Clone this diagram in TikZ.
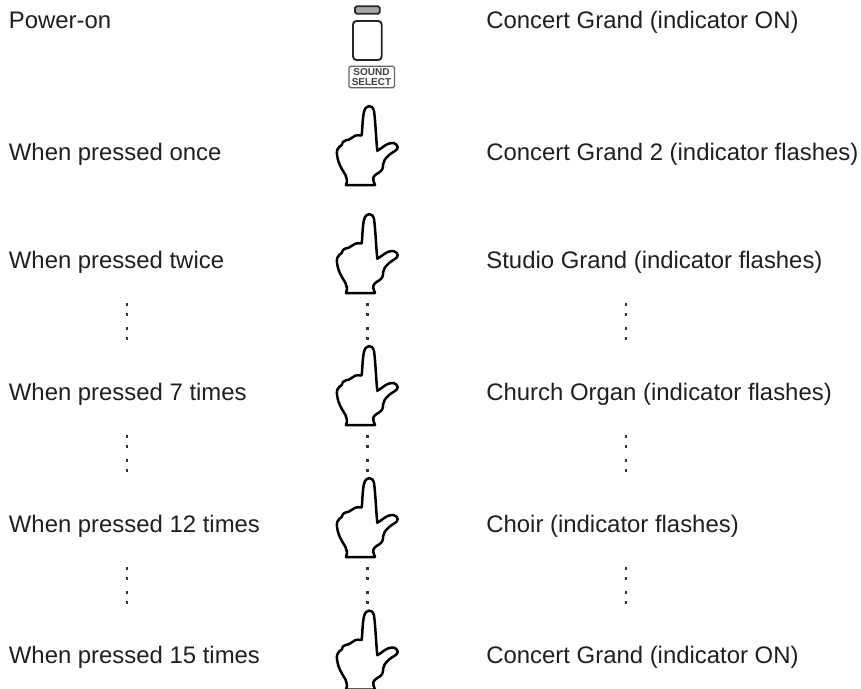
\documentclass[tikz,border=0pt]{standalone}
\usepackage{fontspec}
\setmainfont{Liberation Sans}
\tikzset{
  label/.style={anchor=base west,inner sep=0pt,font=\fontsize{23.9}{28}\selectfont,text=black!88},
  dotmark/.style={fill=black!80,draw=none},
  handline/.style={draw=black,line width=2.5pt,line join=round,line cap=round,fill=white},
  hand/.pic={
    \path[handline] (346,185)
      .. controls (347.5,181) and (347,178) .. (345.5,175)
      .. controls (343,171) and (340.5,167) .. (338.8,162.5)
      .. controls (337,157) and (336.5,153) .. (337.2,150)
      .. controls (337.8,147) and (340.5,146.5) .. (341.7,145)
      .. controls (342.5,142.5) and (343,141) .. (345.5,140.5)
      .. controls (348,140) and (350,139.5) .. (351.5,138)
      .. controls (353.5,136) and (356.5,134.5) .. (361.7,135.5)
      .. controls (362.5,128) and (362.5,118) .. (364,112)
      .. controls (365.5,104.5) and (372.5,104) .. (374,111)
      .. controls (375.5,122) and (376,138) .. (377.3,150.7)
      .. controls (381,149) and (384.5,145) .. (388.3,143.8)
      .. controls (392,142.5) and (396.5,142.5) .. (397.7,147)
      .. controls (398.2,150.5) and (392,152) .. (388.5,155.5)
      .. controls (385,159) and (383.5,161) .. (383.2,164)
      .. controls (383,168) and (382.5,170.5) .. (379,172.5)
      .. controls (375.5,174.5) and (372.5,176.5) .. (373.3,180)
      .. controls (373.7,182) and (374.5,183.5) .. (375,185)
      -- cycle;
  },
  dotcol/.pic={
    \foreach \d in {0,9.6,24,33.6}{\fill[dotmark] (-1.4,\d-1.4) rectangle (1.4,\d+1.4);}
  }
}
\begin{document}
\begin{tikzpicture}[x=1pt,y=-1pt]
\useasboundingbox (0,0) rectangle (861,688);
\clip (0,0) rectangle (861,688);
% labels
\node[label] (l1) at (8.7,28.3) {Power-on};
\node[label] (l2) at (8.7,160) {When pressed once};
\node[label] (l3) at (8.7,268) {When pressed twice};
\node[label] (l4) at (8.7,400) {When pressed 7 times};
\node[label] (l5) at (8.7,532) {When pressed 12 times};
\node[label] (l6) at (8.7,663.5) {When pressed 15 times};
\node[label] (r1) at (486.2,28.3) {Concert Grand (indicator ON)};
\node[label] (r2) at (486.2,160) {Concert Grand 2 (indicator flashes)};
\node[label] (r3) at (486.2,268) {Studio Grand (indicator flashes)};
\node[label] (r4) at (486.2,400) {Church Organ (indicator flashes)};
\node[label] (r5) at (486.2,532) {Choir (indicator flashes)};
\node[label] (r6) at (486.2,663.5) {Concert Grand (indicator ON)};
% button
\draw[draw=black!85,line width=1.8pt,fill=black!35,rounded corners=1.5pt] (355,6.3) rectangle (379.7,13.7);
\draw[draw=black!85,line width=1.9pt,rounded corners=3.5pt] (353,21) rectangle (381.7,60);
\draw[draw=black!60,line width=1.2pt,rounded corners=1.5pt] (349,66.3) rectangle (394.5,87.7);
\node[inner sep=0pt,align=center,font=\bfseries\fontsize{10}{9.6}\selectfont,text=black!75] (sel) at (371.5,77) {SOUND\\SELECT};
% dots
\foreach \y in {304.7,436.7,568.5}{
  \pic at (127,\y) {dotcol};
  \pic at (367.5,\y) {dotcol};
  \pic at (626,\y) {dotcol};
}
% hands
\pic at (0,0) {hand};
\pic at (0,108) {hand};
\pic at (0,240) {hand};
\pic at (0,372) {hand};
\pic at (0,504.5) {hand};
\end{tikzpicture}
\end{document}
